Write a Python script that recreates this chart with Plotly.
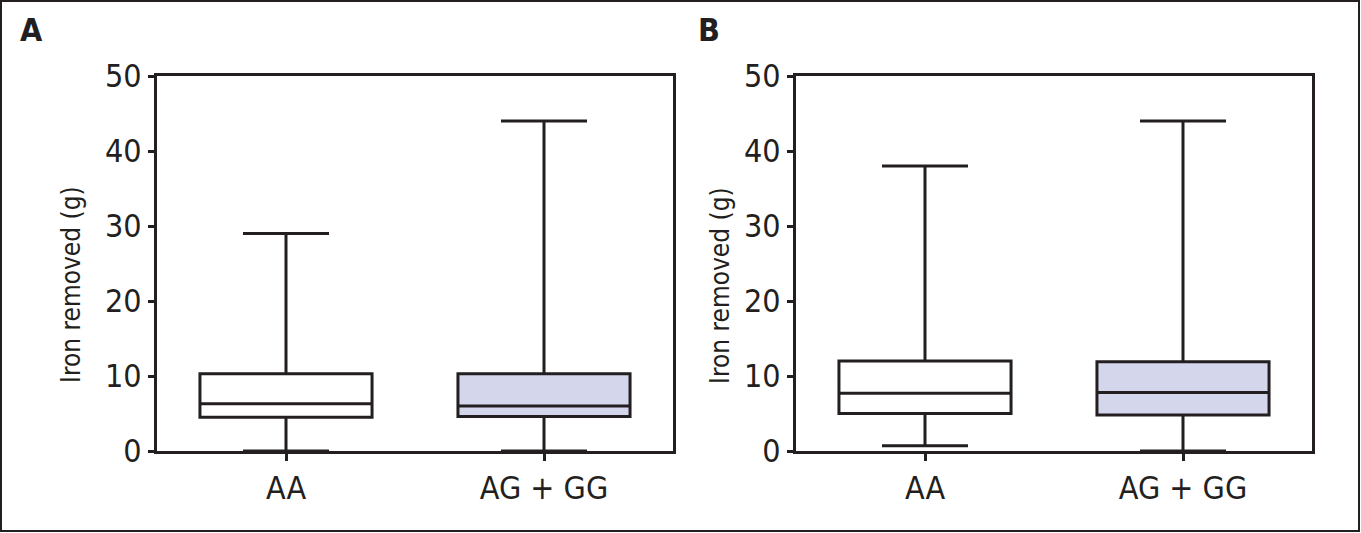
import plotly.graph_objects as go

W, H = 1361, 533

categories = ["AA", "AG + GG"]
panels = ["A", "B"]

# Panel A summary statistics (g)
a_min = [0.0, 0.0]
a_q1 = [4.5, 4.6]
a_med = [6.3, 6.0]
a_q3 = [10.3, 10.3]
a_max = [29.0, 44.0]

# Panel B summary statistics (g)
b_min = [0.7, 0.0]
b_q1 = [5.0, 4.8]
b_med = [7.7, 7.8]
b_q3 = [12.0, 11.9]
b_max = [38.0, 44.0]

fills = ["#ffffff", "#d4d7ec"]
y_ticks = [0, 10, 20, 30, 40, 50]
y_title = "Iron removed (g)"

INK = "#231f20"
FONT = "DejaVu Sans Condensed, Roboto Condensed, Liberation Sans Narrow, Roboto, sans-serif"

fig = go.Figure()

stats = [(a_min, a_q1, a_med, a_q3, a_max), (b_min, b_q1, b_med, b_q3, b_max)]
for p, (mn, q1, md, q3, mx) in enumerate(stats):
    xa = "x" if p == 0 else "x2"
    ya = "y" if p == 0 else "y2"
    for i, cat in enumerate(categories):
        fig.add_trace(go.Box(
            x=[cat], q1=[q1[i]], median=[md[i]], q3=[q3[i]],
            lowerfence=[mn[i]], upperfence=[mx[i]],
            xaxis=xa, yaxis=ya,
            fillcolor=fills[i],
            line=dict(color=INK, width=3),
            width=0.667, whiskerwidth=0.5,
            boxpoints=False, showlegend=False, hoverinfo="skip",
        ))

def px_x(v):
    return v / W

def px_y(v):
    return 1 - v / H

ydom = [px_y(451), px_y(76)]
xdomA = [px_x(157), px_x(673)]
xdomB = [px_x(796), px_x(1312)]

axis_common = dict(
    showline=True, linecolor=INK, linewidth=3, mirror=True, automargin=False,
    showgrid=False, zeroline=False, ticks="outside", tickcolor=INK,
    tickwidth=3, tickfont=dict(family=FONT, size=32, color=INK),
)

fig.update_layout(
    template="none",
    width=W, height=H,
    margin=dict(l=0, r=0, t=0, b=0, pad=0),
    paper_bgcolor="white", plot_bgcolor="white",
    font=dict(family=FONT, color=INK),
    xaxis=dict(domain=xdomA, anchor="y", type="category",
               categoryorder="array", categoryarray=categories,
               range=[-0.5, 1.5], ticklen=7, **axis_common),
    yaxis=dict(domain=ydom, anchor="x", range=[0, 50], tickvals=y_ticks,
               ticklen=6, **axis_common),
    xaxis2=dict(domain=xdomB, anchor="y2", type="category",
                categoryorder="array", categoryarray=categories,
                range=[-0.5, 1.5], ticklen=7, **axis_common),
    yaxis2=dict(domain=ydom, anchor="x2", range=[0, 50], tickvals=y_ticks,
                ticklen=6, **axis_common),
    shapes=[dict(type="rect", xref="paper", yref="paper",
                 x0=px_x(1), x1=px_x(1359), y0=px_y(531), y1=px_y(1),
                 line=dict(color=INK, width=2))],
)

annotations = []
for p, (lx, tx) in enumerate([(31, 71), (709, 720)]):
    annotations.append(dict(
        text="<b>%s</b>" % panels[p], x=px_x(lx), y=px_y(30),
        xref="paper", yref="paper", showarrow=False,
        xanchor="center", yanchor="middle",
        font=dict(family=FONT, size=32, color=INK)))
    annotations.append(dict(
        text=y_title, x=px_x(tx), y=px_y(285), textangle=-90,
        xref="paper", yref="paper", showarrow=False,
        xanchor="center", yanchor="middle",
        font=dict(family=FONT, size=26, color=INK)))
fig.update_layout(annotations=annotations)

fig.write_html(
    "out.html",
    config={"displayModeBar": False, "staticPlot": True},
    post_script="document.body.style.margin='0';document.body.style.overflow='hidden';",
)
